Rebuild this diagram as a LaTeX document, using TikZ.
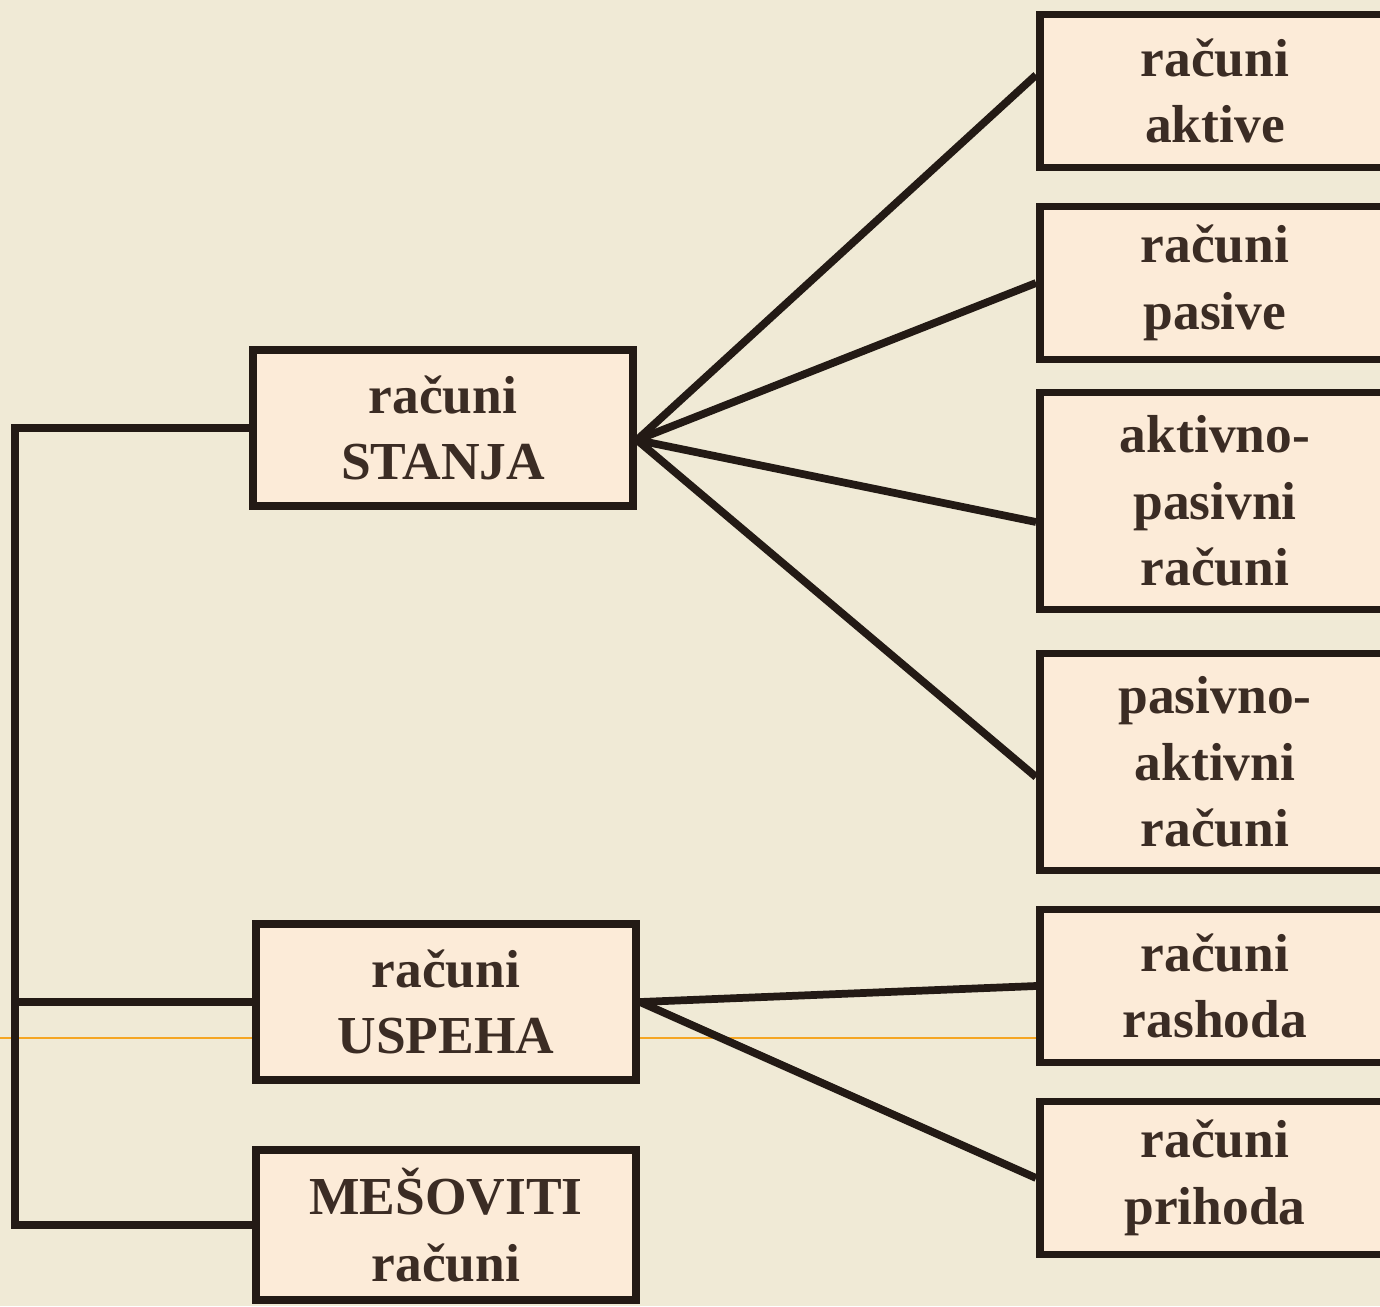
\documentclass[tikz,border=0pt]{standalone}
\usepackage{fontspec}
\setmainfont{Liberation Serif}
\usetikzlibrary{positioning, calc}
\definecolor{slidebg}{HTML}{F0EAD6}
\definecolor{boxfill}{HTML}{FCEBD8}
\definecolor{inkline}{HTML}{231A15}
\definecolor{inktext}{HTML}{3B2C24}
\definecolor{rulerorange}{HTML}{F5A623}

\begin{document}
\begin{tikzpicture}[
    x=0.01cm, y=-0.01cm,
    acct/.style={rectangle, draw=inkline, fill=boxfill, line width=2.2pt,
        text=inktext, font=\bfseries\fontsize{15.2}{18.9}\selectfont,
        align=center, inner sep=0pt},
    main/.style={acct, minimum width=3.8cm, minimum height=1.56cm},
    sub/.style={acct, minimum width=3.5cm, minimum height=1.53cm},
    tall/.style={sub, minimum height=2.17cm},
    link/.style={draw=inkline, line width=2.2pt},
]
% background and page size
\fill[slidebg] (0,0) rectangle (1380,1306);
\useasboundingbox (0,0) rectangle (1380,1306);
\draw[rulerorange, line width=0.6pt] (0,1038) -- (1380,1038);

% left column
\node[main] (stanja) at (443,428) {računi\\STANJA};
\node[main] (uspeha) at (446,1002) {računi\\USPEHA};
\node[main, minimum height=1.5cm] (mesoviti) at (446,1225) {MEŠOVITI\\računi};

% right column
\node[sub] (aktive) at (1215,91) {računi\\aktive};
\node[sub] (pasive) at (1215,283) {računi\\pasive};
\node[tall] (aktpas) at (1215,501) {aktivno-\\pasivni\\računi};
\node[tall] (pasakt) at (1215,762) {pasivno-\\aktivni\\računi};
\node[sub] (rashoda) at (1215,986) {računi\\rashoda};
\node[sub] (prihoda) at (1215,1178) {računi\\prihoda};

% bracket on the left
\coordinate (trunk) at (15,0);
\draw[link] (stanja.west) -- (stanja.west -| trunk) -- (mesoviti.west -| trunk) -- (mesoviti.west);
\draw[link] (uspeha.west) -- (uspeha.west -| trunk);

% fan-out lines
\coordinate (sfan) at ($(stanja.east)+(0,12)$);
\draw[link] (sfan) -- ([yshift=0.16cm]aktive.west);
\draw[link] (sfan) -- (pasive.west);
\draw[link] (sfan) -- ([yshift=-0.21cm]aktpas.west);
\draw[link] (sfan) -- ([yshift=-0.15cm]pasakt.west);
\draw[link] (uspeha.east) -- (rashoda.west);
\draw[link] (uspeha.east) -- (prihoda.west);
\end{tikzpicture}
\end{document}
